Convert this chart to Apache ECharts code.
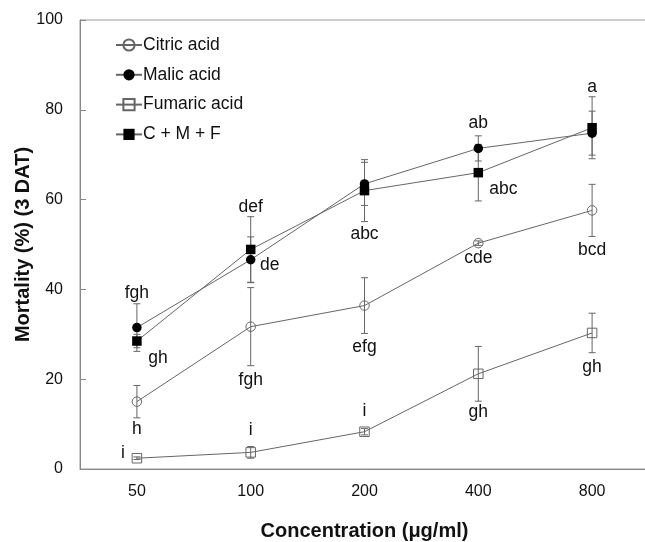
<!DOCTYPE html>
<html>
<head>
<meta charset="utf-8">
<script src="https://cdn.jsdelivr.net/npm/echarts@6/dist/echarts.min.js"></script>
<style>
  html, body { margin: 0; padding: 0; background: #fff; }
  #mortality_chart { width: 645px; height: 542px; }
</style>
</head>
<body>
<div id="mortality_chart"></div>
<script>
const categories = ["50", "100", "200", "400", "800"];

const citric = [15.0, 31.7, 36.4, 50.3, 57.6];
const citricErr = [3.6, 8.7, 6.2, 0.5, 5.8];
const citricLetters = ["h", "fgh", "efg", "cde", "bcd"];

const malic = [31.5, 46.6, 63.5, 71.4, 74.8];
const malicErr = [5.3, 5.1, 4.8, 2.8, 4.9];
const malicLetters = ["fgh", "de", "", "ab", ""];

const fumaric = [2.4, 3.7, 8.3, 21.2, 30.3];
const fumaricErr = [0.3, 1.3, 0.7, 6.1, 4.4];
const fumaricLetters = ["i", "i", "i", "gh", "gh"];

const cmf = [28.5, 48.9, 62.0, 66.0, 76.0];
const cmfErr = [1.5, 7.3, 6.9, 6.3, 6.9];
const cmfLetters = ["gh", "def", "abc", "abc", "a"];

const FONT = '"Liberation Sans", Arial, sans-serif';
const chart = echarts.init(document.getElementById("mortality_chart"));

// error bars + letter labels; place = [anchor, dx, dy], anchor t=top cap, b=bottom cap, p=point
function errorSeries(values, errs, letters, place) {
  return {
    type: "custom",
    z: 1,
    silent: true,
    data: values.map((v, i) => [i, v, errs[i]]),
    renderItem(params, api) {
      const i = api.value(0);
      const v = api.value(1);
      const e = api.value(2);
      const top = api.coord([i, v + e]);
      const bot = api.coord([i, v - e]);
      const mid = api.coord([i, v]);
      const w = 3.5;
      const style = { stroke: "#666", lineWidth: 1 };
      const children = [
        { type: "line", shape: { x1: top[0], y1: top[1], x2: bot[0], y2: bot[1] }, style },
        { type: "line", shape: { x1: top[0] - w, y1: top[1], x2: top[0] + w, y2: top[1] }, style },
        { type: "line", shape: { x1: bot[0] - w, y1: bot[1], x2: bot[0] + w, y2: bot[1] }, style },
      ];
      const txt = letters[params.dataIndex];
      const p = place[params.dataIndex];
      if (txt) {
        const base = p[0] === "t" ? top : p[0] === "b" ? bot : mid;
        children.push({
          type: "text",
          x: base[0] + p[1],
          y: base[1] + p[2],
          z2: 10,
          style: {
            text: txt,
            fill: "#111",
            font: "17.5px " + FONT,
            align: "center",
            verticalAlign: "middle",
          },
        });
      }
      return { type: "group", children };
    },
  };
}

function lineSeries(name, data, symbol, filled) {
  return {
    name: name,
    type: "line",
    z: 2,
    data: data,
    symbol: symbol,
    symbolSize: 9.5,
    lineStyle: { color: "#666", width: 1 },
    itemStyle: filled
      ? { color: "#000", borderColor: "#000", borderWidth: 0 }
      : { color: "transparent", borderColor: "#666", borderWidth: 1 },
    emphasis: { disabled: true },
  };
}

const option = {
  animation: false,
  grid: {
    left: 80,
    top: 20,
    width: 569,
    height: 449,
    outerBoundsMode: "none",
    containLabel: false,
    show: true,
    borderColor: "#999",
    borderWidth: 1,
  },
  legend: {
    orient: "vertical",
    left: 115,
    top: 36,
    padding: 0,
    itemWidth: 26,
    itemHeight: 14,
    itemGap: 11.8,
    textStyle: { fontSize: 17.5, fontFamily: FONT, color: "#111", padding: [0, 0, 0, -4] },
    data: ["Citric acid", "Malic acid", "Fumaric acid", "C + M + F"],
  },
  xAxis: {
    type: "category",
    data: categories,
    boundaryGap: true,
    name: "Concentration (μg/ml)",
    nameLocation: "middle",
    nameGap: 52,
    nameTextStyle: { fontSize: 20, fontWeight: "bold", fontFamily: FONT, color: "#111" },
    axisLine: { lineStyle: { color: "#888", width: 1 } },
    axisTick: { show: false },
    axisLabel: { fontSize: 16, fontFamily: FONT, color: "#111", margin: 15 },
  },
  yAxis: {
    type: "value",
    min: 0,
    max: 100,
    interval: 20,
    name: "Mortality (%) (3 DAT)",
    nameLocation: "middle",
    nameGap: 47,
    nameMoveOverlap: false,
    nameTextStyle: { fontSize: 20, fontWeight: "bold", fontFamily: FONT, color: "#111" },
    axisLine: { show: true, lineStyle: { color: "#888", width: 1 } },
    axisTick: { show: true, inside: true, length: 6, lineStyle: { color: "#888" } },
    splitLine: { show: false },
    axisLabel: { fontSize: 16, fontFamily: FONT, color: "#111", margin: 17 },
  },
  series: [
    errorSeries(citric, citricErr, citricLetters, [["b", 0, 11], ["b", 0, 14], ["b", 0, 14], ["b", 0, 13], ["b", 0, 14]]),
    errorSeries(malic, malicErr, malicLetters, [["t", 0, -11], ["p", 19, 5], ["p", 0, 0], ["t", 0, -13], ["p", 0, 0]]),
    errorSeries(fumaric, fumaricErr, fumaricLetters, [["p", -14, -5], ["t", 0, -16], ["t", 0, -17], ["b", 0, 11], ["b", 0, 14]]),
    errorSeries(cmf, cmfErr, cmfLetters, [["p", 21, 17], ["t", 0, -9], ["b", 0, 13], ["p", 25, 17], ["t", 0, -10]]),
    lineSeries("Citric acid", citric, "circle", false),
    lineSeries("Malic acid", malic, "circle", true),
    lineSeries("Fumaric acid", fumaric, "rect", false),
    lineSeries("C + M + F", cmf, "rect", true),
  ],
};

chart.setOption(option);
</script>
</body>
</html>
